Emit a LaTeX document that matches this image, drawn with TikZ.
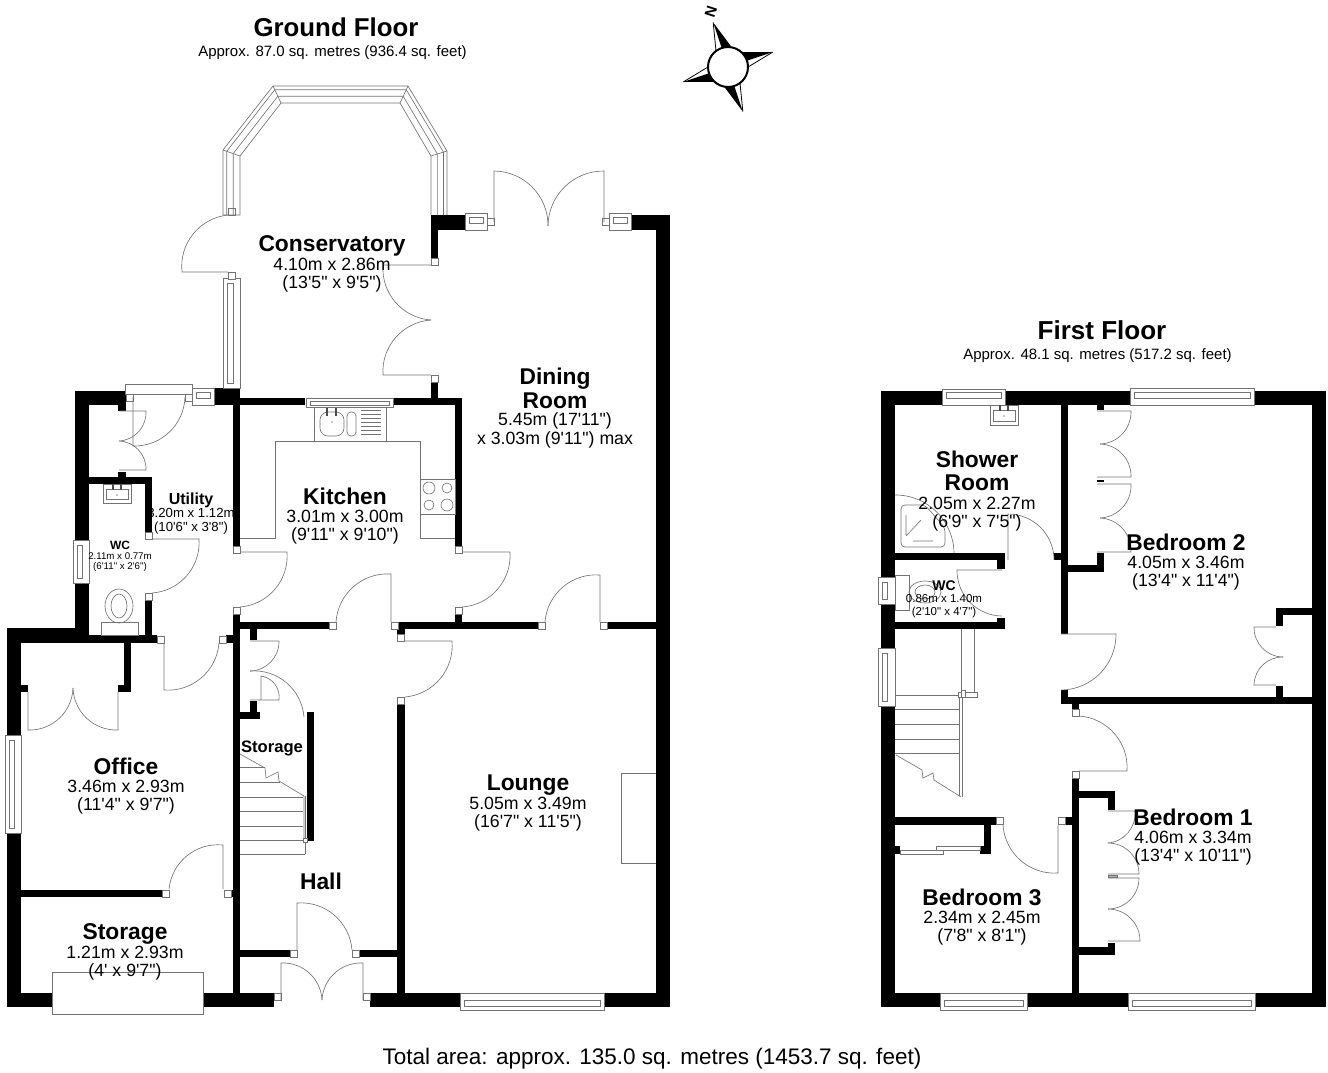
\documentclass[tikz,border=0pt]{standalone}
\usepackage{fontspec}
\usetikzlibrary{calc}
\newfontfamily\planfont{Liberation Sans}
\newcommand{\roomname}[2][11.4]{{\fontsize{#1}{#1}\selectfont\bfseries #2}}
\tikzset{
    thinline/.style={draw=black!55, line width=.32pt},
    door/.style={thinline},
    fixture/.style={thinline, fill=white},
    window/.style={thinline, fill=white},
    jamb/.style={thinline, fill=white},
    room/.style={font=\planfont\fontsize{8.85}{9.2}\selectfont, align=center, inner sep=0pt},
    smallroom/.style={font=\planfont\fontsize{6.6}{6.6}\selectfont, align=center, inner sep=0pt},
    heading/.style={font=\planfont\fontsize{7.5}{12}\selectfont, inner sep=0pt},
}
\begin{document}
\begin{tikzpicture}[x=.5pt, y=-.5pt]
    \useasboundingbox (0,0) rectangle (1328,1072);
    % walls
    \foreach \xa/\ya/\xb/\yb in {75/391/126/405, 118/405/126/411, 75/391/89/540, 75/583/89/636, 7/628/89/643, 89/635/157/643,
        7/628/21/1007, 89/477/152/484, 145/484/152/532, 118/472/126/477, 145/600/152/636, 226/635/240/643,
        233/388/240/546, 233/614/240/1000, 214/388/240/405, 240/398/305/405, 393/398/462/405, 455/405/462/546,
        455/614/462/622, 431/383/438/398, 431/215/465/230, 431/230/438/258, 631/215/670/230, 656/215/670/1007,
        240/622/329/629, 397/622/538/629, 607/622/656/629, 397/629/405/634, 397/703/405/1000, 240/950/290/957,
        359/950/397/957, 7/993/274/1007, 370/993/670/1007, 21/890/162/897, 231/890/233/897, 124/643/131/692,
        118/685/131/692, 21/685/28/692, 250/629/257/640, 250/701/257/719, 240/712/260/719, 307/712/314/841}
        \fill (\xa,\ya) rectangle (\xb,\yb);
    \foreach \xa/\ya/\xb/\yb in {881/391/1326/405, 881/391/895/1007, 1312/391/1326/1007, 881/993/1326/1007, 1061/405/1068/634,
        1068/565/1104/572, 1097/553/1104/565, 1054/553/1061/560, 1097/405/1104/410, 1097/480/1104/482,
        1061/690/1068/704, 1061/697/1312/704, 1072/704/1079/709, 1072/778/1079/993, 1276/608/1312/615,
        1276/615/1283/626, 1276/686/1283/697, 1079/791/1115/798, 1108/798/1115/810, 1108/943/1115/955,
        1079/947/1115/955, 895/817/996/825, 1065/817/1072/825, 984/825/991/854, 980/846/991/854, 895/846/900/854,
        895/553/1005/560, 997/560/1005/569, 997/618/1005/629, 895/622/1005/629}
        \fill (\xa,\ya) rectangle (\xb,\yb);
    % windows, lying and standing
    \draw[window] (52,972) rectangle (203,1014);
    \draw[window] (125,384) rectangle (192,394);
    \foreach \xa/\ya/\xb/\yb/\ia/\ib in {192/388/214/405/392/398, 465/213/487/230/217/223, 609/213/631/230/217/223,
        306/398/393/407/401/405, 460/993/604/1010/1000/1006, 942/389/1005/405/392/398, 1130/388/1254/405/392/398,
        940/993/1027/1010/1000/1006, 1128/993/1255/1010/1000/1006}
        \draw[window] (\xa,\ya) rectangle (\xb,\yb) ({\xa+4},\ia) rectangle ({\xb-4},\ib);
    \foreach \xa/\ya/\xb/\yb/\ia/\ib in {73/540/89/583/77/82, 5/735/21/833/9/14, 223/278/240/388/227/233,
        878/577/895/604/882/887, 878/648/895/706/882/887}
        \draw[window] (\xa,\ya) rectangle (\xb,\yb) (\ia,{\ya+5}) rectangle (\ib,{\yb-5});
    % jambs
    \foreach \x/\y in {233/546, 233/607, 455/546, 455/607, 145/532, 145/593, 157/636, 219/636, 329/622, 391/622, 397/634,
        397/697, 538/622, 600/622, 290/950, 352/950, 274/993, 363/993, 162/890, 224/890, 431/258, 431/375, 126/394,
        185/394, 228/272, 228/208, 996/817, 1058/817, 1072/709, 1072/771, 487/218, 602/218}
        \draw[jamb] (\x,\y) rectangle ++(7,7);
    % conservatory glazing
    \coordinate (oa) at (223,215); \coordinate (ob) at (223,150); \coordinate (oc) at (273,86);
    \coordinate (od) at (408,86);  \coordinate (oe) at (447,151); \coordinate (of) at (447,215);
    \coordinate (ia) at (240,215); \coordinate (ib) at (240,156); \coordinate (ic) at (281,103);
    \coordinate (id) at (400,103); \coordinate (ie) at (431,156); \coordinate (if) at (431,215);
    \foreach \t in {0,.22,.6,1}
        \draw[thinline] ($(oa)!\t!(ia)$) -- ($(ob)!\t!(ib)$) -- ($(oc)!\t!(ic)$) -- ($(od)!\t!(id)$) -- ($(oe)!\t!(ie)$) -- ($(of)!\t!(if)$);
    \draw[thinline] (oa) -- (ia) (ob) -- (ib) (oc) -- (ic) (od) -- (id) (oe) -- (ie);
    % doors that swing clockwise
    \foreach \ax/\ay/\bx/\by/\cx/\cy in {240/552/287/552/240/607, 462/552/510/552/462/607, 405/641/452/641/405/697,
        152/539/199/539/152/593, 228/272/182/272/228/215, 431/375/383/375/431/320, 494/222/494/171/548/226,
        297/950/297/903/352/950, 281/1000/281/963/322/1000, 119/411/146/411/119/441, 118/692/118/730/73/688,
        250/641/279/641/250/671, 1008/560/1008/514/1054/560, 1061/634/1116/634/1061/690, 1058/825/1058/873/1003/825,
        1097/411/1131/411/1100/444, 1097/484/1131/484/1100/518, 1276/685/1254/685/1283/657, 1108/811/1135/811/1108/843,
        1108/878/1139/878/1108/909}
        \draw[door] (\ax,\ay) -- (\bx,\by) to[bend left=45] (\cx,\cy);
    % doors that swing the other way
    \foreach \ax/\ay/\bx/\by/\cx/\cy in {391/622/391/574/336/622, 600/622/600/575/545/622, 164/643/164/690/219/643,
        431/265/383/265/431/320, 604/222/604/171/548/226, 363/1000/363/963/322/1000, 223/889/223/845/169/889,
        133/397/133/446/185/397, 119/470/146/470/119/441, 28/692/28/730/73/688, 1002/570/957/570/1002/616,
        1097/477/1131/477/1100/444, 1097/552/1131/552/1100/518, 1276/627/1254/627/1283/657, 1108/874/1139/874/1108/843,
        1108/941/1140/941/1108/909}
        \draw[door] (\ax,\ay) -- (\bx,\by) to[bend right=45] (\cx,\cy);
    \draw[door] (250,671) to[bend left=45] (304,717);
    \draw[door] (261,700) -- (261,676) to[bend left=45] (279,700) -- (250,700);
    \draw[door] (895,495) to[bend left=45] (954,553);
    \draw[door] (1079,716) to[bend left=45] (1127,771) -- (1079,771);
    % ground floor stairs
    \foreach \y/\x in {767/265, 782/280, 797/303, 811/303, 826/303, 840/303, 854/305}
        \draw[thinline] (240,\y) -- (\x,\y);
    \draw[thinline] (240,754) -- (265,768) -- (266,778) -- (278,772) -- (279,781) -- (304,796) -- (304,840);
    \draw[thinline] (305,796) -- (305,854);
    \draw[jamb] (303,838) rectangle ++(4,4);
    % first floor stairs
    \foreach \y in {695,709,724,739,753}
        \draw[thinline] (895,\y) -- (960,\y);
    \draw[thinline] (896,755) -- (922,770) -- (923,778) -- (933,773) -- (934,780) -- (961,797);
    \draw[thinline] (959,695) -- (959,796) (962,695) -- (962,797);
    \draw[thinline] (961,629) -- (961,692) (974,629) -- (974,692);
    \draw[jamb] (958,692) rectangle (977,697);
    \draw[jamb] (961,690) rectangle ++(4,7);
    % kitchen units
    \draw[thinline] (240,538) -- (275,538) -- (275,441) -- (420,441) -- (420,538) -- (455,538);
    \draw[thinline] (314,408) -- (314,441) (386,408) -- (386,441);
    \draw[thinline, rounded corners=4pt] (320,412) rectangle (344,436);
    \draw[thinline, rounded corners=2pt] (347,412) rectangle (356,436);
    \foreach \x in {327,336}
        \draw[line width=.6pt, draw=black!70] (\x,408) -- (\x,416);
    \fill (332,422) circle (.7);
    \foreach \y in {410,414,...,436}
        \draw[thinline] (361,\y) -- (381,\y);
    \draw[thinline] (420,479) rectangle (455,514);
    \draw[thinline] (429,488) circle (6) (447,488) circle (5) (429,505) circle (5) (447,505) circle (6);
    % basins and toilets
    \foreach \xa/\ya/\xb/\yb in {103/484/131/503, 990/405/1018/425} {
        \draw[fixture] (\xa,\ya) rectangle (\xb,\yb) ({\xa+3},{\ya+5}) rectangle ({\xb-3},{\yb-4});
        \fill ({(\xa+\xb)/2},{\ya+11}) circle (.6);
        \draw[line width=.6pt, draw=black!70] ({(\xa+\xb)/2-4},\ya) -- ++(0,6) ({(\xa+\xb)/2+4},\ya) -- ++(0,6);
    }
    \draw[thinline] (101,622) rectangle (138,635);
    \draw[thinline] (119,606) ellipse (14 and 17) (119,606) ellipse (8 and 12);
    \draw[thinline] (895,575) rectangle (909,610);
    \draw[thinline] (925,592) ellipse (16 and 11) (925,592) ellipse (10 and 7);
    \draw[thinline, rounded corners=2pt] (901,505) -- (925,505) -- (945,528) -- (945,547) -- (901,547) -- cycle;
    \draw[thinline] (906,536) -- (921,520) (913,541) -- (933,541) (906,515) -- (906,535);
    % chimney, sliding doors
    \draw[thinline] (656,773) -- (621,773) -- (621,863) -- (656,863);
    \draw[thinline] (900,850) rectangle (943,854) (936,846) rectangle (980,850);
    \draw[thinline, fill=black!30] (1108,875) rectangle (1117,877);
    % compass
    \foreach \a/\s in {0/1, 90/-1, 180/1, 270/-1} {
        \begin{scope}[shift={(728,67)}, rotate=18.4+\a, xscale=\s]
            \fill (0,-47) -- (11,-14) -- (0,-18) -- cycle;
            \draw[line width=.4pt] (0,-47) -- (-7,-16);
        \end{scope}
    }
    \draw[fill=white, line width=1pt] (728,67) circle (20);
    \node[font=\planfont\bfseries\fontsize{7.5}{7.5}\selectfont, rotate=72, inner sep=0pt] (north) at (711,12) {N};
    % text
    \node[heading] (groundtitle) at (336,27) {\roomname[12.9]{Ground Floor}};
    \node[heading] (groundarea) at (332.5,52.5) {Approx. 87.0 sq. metres (936.4 sq. feet)};
    \node[heading] (firsttitle) at (1102,330) {\roomname[13]{First Floor}};
    \node[heading] (firstarea) at (1097.5,355.5) {Approx. 48.1 sq. metres (517.2 sq. feet)};
    \node[font=\planfont\fontsize{11.25}{11.25}\selectfont, inner sep=0pt] (total) at (652,1059) {Total area: approx. 135.0 sq. metres (1453.7 sq. feet)};
    \node[room] (conservatory) at (332,264) {\roomname{Conservatory}\\4.10m x 2.86m\\(13'5" x 9'5")};
    \node[room] (dining) at (555,408) {\roomname{Dining}\\[.5pt]\roomname{Room}\\[-.5pt]5.45m (17'11")\\x 3.03m (9'11") max};
    \node[room] (kitchen) at (345,516) {\roomname{Kitchen}\\3.01m x 3.00m\\(9'11" x 9'10")};
    \node[smallroom] (utility) at (191,513.5) {\roomname[8]{Utility}\\3.20m x 1.12m\\(10'6" x 3'8")};
    \node[font=\planfont\fontsize{4.85}{5}\selectfont, align=center, inner sep=0pt] (wcground) at (120,556) {\roomname[6]{WC}\\2.11m x 0.77m\\(6'11" x 2'6")};
    \node[room] (office) at (126,786) {\roomname{Office}\\3.46m x 2.93m\\(11'4" x 9'7")};
    \node[room] (storagelow) at (125,952) {\roomname{Storage}\\1.21m x 2.93m\\(4' x 9'7")};
    \node[inner sep=0pt, font=\planfont] (storagehigh) at (272,748) {\roomname[8.3]{Storage}};
    \node[inner sep=0pt, font=\planfont] (hall) at (321,881) {\roomname{Hall}};
    \node[room] (lounge) at (528,803) {\roomname{Lounge}\\5.05m x 3.49m\\(16'7" x 11'5")};
    \node[room] (shower) at (977,491) {\roomname{Shower}\\[2.5pt]\roomname{Room}\\2.05m x 2.27m\\(6'9" x 7'5")};
    \node[font=\planfont\fontsize{5.75}{6.3}\selectfont, align=center, inner sep=0pt] (wcfirst) at (944,599) {\roomname[7]{WC}\\0.86m x 1.40m\\(2'10" x 4'7")};
    \node[room] (bedtwo) at (1186,562) {\roomname{Bedroom 2}\\4.05m x 3.46m\\(13'4" x 11'4")};
    \node[room] (bedone) at (1193,837) {\roomname{Bedroom 1}\\4.06m x 3.34m\\(13'4" x 10'11")};
    \node[room] (bedthree) at (982,917) {\roomname{Bedroom 3}\\2.34m x 2.45m\\(7'8" x 8'1")};
\end{tikzpicture}
\end{document}
